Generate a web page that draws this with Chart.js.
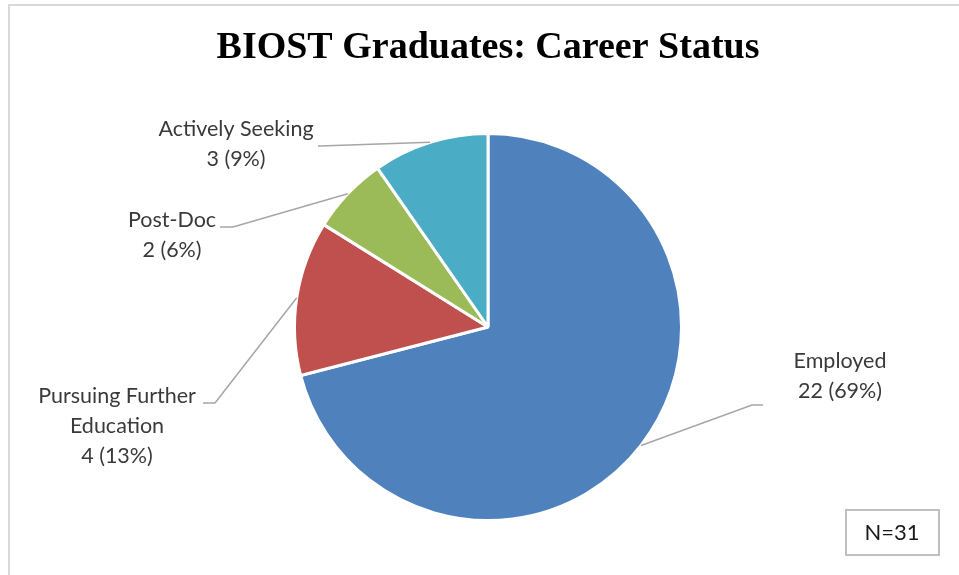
<!DOCTYPE html>
<html>
<head>
<meta charset="utf-8">
<script src="https://cdn.jsdelivr.net/npm/chart.js@4/dist/chart.umd.min.js"></script>
<style>
html,body{margin:0;padding:0;background:#fff;}
canvas{display:block;}
</style>
</head>
<body>
<canvas id="c" width="959" height="575"></canvas>
<script>
// ---- data ----
const categories = ["Employed", "Pursuing Further Education", "Post-Doc", "Actively Seeking"];
const counts = [22, 4, 2, 3];
const percents = ["69%", "13%", "6%", "9%"];
const labelLines = [
  ["Employed", "22 (69%)"],
  ["Pursuing Further", "Education", "4 (13%)"],
  ["Post-Doc", "2 (6%)"],
  ["Actively Seeking", "3 (9%)"]
];
const totalN = "N=31";
const titleText = "BIOST Graduates: Career Status";

// ---- style / layout ----
const colors = ["#4F81BD", "#C0504D", "#9BBB59", "#4BACC6"];
const labelFont = "21.5px Lato";
const textColor = "#3A3A3A";
const leaderColor = "#A6A6A6";
// label centre (x, first-line y), leader elbow and end
const labelLayout = [
  {x: 840, y: 361, elbow: [752, 405], end: [763, 405]},
  {x: 117, y: 396, elbow: [215, 403], end: [203, 403]},
  {x: 172, y: 220, elbow: [233, 227], end: [220, 227]},
  {x: 236, y: 129, elbow: [320, 146], end: [318, 146]}
];
const lineGap = 30;

const decor = {
  id: 'decor',
  beforeDraw(chart) {
    const ctx = chart.ctx;
    ctx.save();
    ctx.fillStyle = '#fff';
    ctx.fillRect(0, 0, chart.width, chart.height);
    ctx.strokeStyle = '#D9D9D9';
    ctx.lineWidth = 2;
    ctx.beginPath();
    ctx.moveTo(9, chart.height);
    ctx.lineTo(9, 5);
    ctx.lineTo(chart.width, 5);
    ctx.stroke();
    ctx.restore();
  },
  afterDraw(chart) {
    const ctx = chart.ctx;
    const meta = chart.getDatasetMeta(0);
    ctx.save();
    meta.data.forEach((arc, i) => {
      const p = arc.getProps(['x', 'y', 'startAngle', 'endAngle', 'outerRadius'], true);
      const mid = (p.startAngle + p.endAngle) / 2;
      const sx = p.x + Math.cos(mid) * p.outerRadius;
      const sy = p.y + Math.sin(mid) * p.outerRadius;
      const L = labelLayout[i];
      ctx.strokeStyle = leaderColor;
      ctx.lineWidth = 1.5;
      ctx.beginPath();
      ctx.moveTo(sx, sy);
      ctx.lineTo(L.elbow[0], L.elbow[1]);
      ctx.lineTo(L.end[0], L.end[1]);
      ctx.stroke();
      ctx.fillStyle = textColor;
      ctx.font = labelFont;
      ctx.textAlign = 'center';
      ctx.textBaseline = 'middle';
      labelLines[i].forEach((t, k) => ctx.fillText(t, L.x, L.y + k * lineGap));
    });
    // N box
    ctx.strokeStyle = '#BFBFBF';
    ctx.lineWidth = 2;
    ctx.strokeRect(846, 510, 93, 45);
    ctx.fillStyle = '#1A1A1A';
    ctx.font = '22px Lato';
    ctx.textAlign = 'center';
    ctx.textBaseline = 'middle';
    ctx.fillText(totalN, 892, 533);
    ctx.restore();
  }
};

new Chart(document.getElementById('c'), {
  type: 'pie',
  data: {
    labels: categories,
    datasets: [{
      data: counts,
      backgroundColor: colors,
      borderColor: '#ffffff',
      borderWidth: 3,
      hoverOffset: 0
    }]
  },
  options: {
    responsive: false,
    animation: false,
    events: [],
    layout: {padding: {top: 10, bottom: 53, left: 200, right: 183}},
    plugins: {
      legend: {display: false},
      tooltip: {enabled: false},
      title: {
        display: true,
        text: titleText,
        color: '#000',
        font: {family: 'Liberation Serif', size: 38, weight: 'bold'},
        padding: {top: 15, bottom: 61.4}
      }
    }
  },
  plugins: [decor]
});
</script>
</body>
</html>
